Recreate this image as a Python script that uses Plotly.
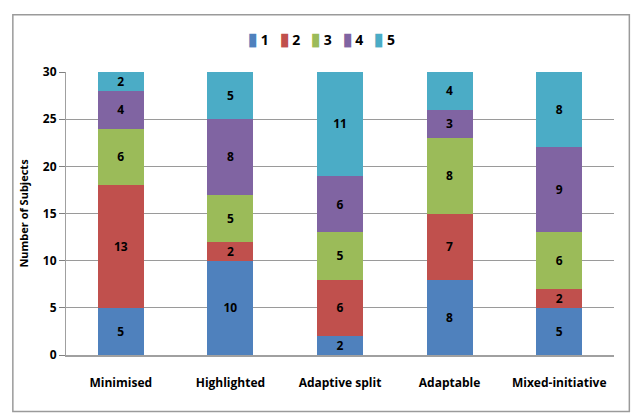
import plotly.graph_objects as go

categories = ["Minimised", "Highlighted", "Adaptive split", "Adaptable", "Mixed-initiative"]
series_names = ["1", "2", "3", "4", "5"]
s1 = [5, 10, 2, 8, 5]
s2 = [13, 2, 6, 7, 2]
s3 = [6, 5, 5, 8, 6]
s4 = [4, 8, 6, 3, 9]
s5 = [2, 5, 11, 4, 8]
y_ticks = [0, 5, 10, 15, 20, 25, 30]

colors = ["#4F81BD", "#C0504D", "#9BBB59", "#8064A2", "#4BACC6"]
font_family = "Open Sans, Liberation Sans, sans-serif"

fig = go.Figure()
for name, vals, col in zip(series_names, [s1, s2, s3, s4, s5], colors):
    fig.add_trace(go.Bar(
        x=categories, y=vals, name=name,
        marker=dict(color=col, line=dict(width=0)),
        text=[str(v) for v in vals], textposition="inside",
        insidetextanchor="middle", textangle=0,
        textfont=dict(color="black", size=12, family=font_family, weight="bold"),
        constraintext="none",
        showlegend=False,
    ))

# compact legend like the original (small squares + labels)
legend_text = "&nbsp;&nbsp;&nbsp;".join(
    f"<span style='color:{c};font-size:17px'>▮</span> {n}" for n, c in zip(series_names, colors)
)

fig.update_layout(
    barmode="stack",
    bargap=0.58,
    width=632, height=416,
    margin=dict(l=66, r=18, t=72, b=61),
    paper_bgcolor="white",
    plot_bgcolor="white",
    font=dict(family=font_family, color="black"),
    annotations=[dict(text=legend_text, xref="paper", yref="paper", x=0.467, y=1.12,
                      xanchor="center", yanchor="middle", showarrow=False,
                      font=dict(size=14, family=font_family, color="black", weight="bold"))],
    shapes=[dict(type="rect", xref="paper", yref="paper", x0=-0.097, x1=1.028, y0=-0.2, y1=1.202,
                 line=dict(color="#9a9a9a", width=1.5), layer="below")],
)

fig.update_xaxes(showgrid=False, showline=True, linecolor="#a0a0a0", linewidth=2,
                 ticks="", ticklabelstandoff=16,
                 tickfont=dict(size=12, family=font_family, weight="bold", color="black"))
fig.update_yaxes(range=[0, 30], tickvals=y_ticks, showgrid=True, gridcolor="#9a9a9a", gridwidth=1,
                 showline=True, linecolor="#a0a0a0", linewidth=1, ticks="outside", ticklen=6,
                 tickcolor="#808080",
                 tickfont=dict(size=12, family=font_family, weight="bold", color="black"),
                 title=dict(text="Number of Subjects", font=dict(size=11, family=font_family, weight="bold", color="black"), standoff=12),
                 zeroline=False)

fig.write_html("out.html")
